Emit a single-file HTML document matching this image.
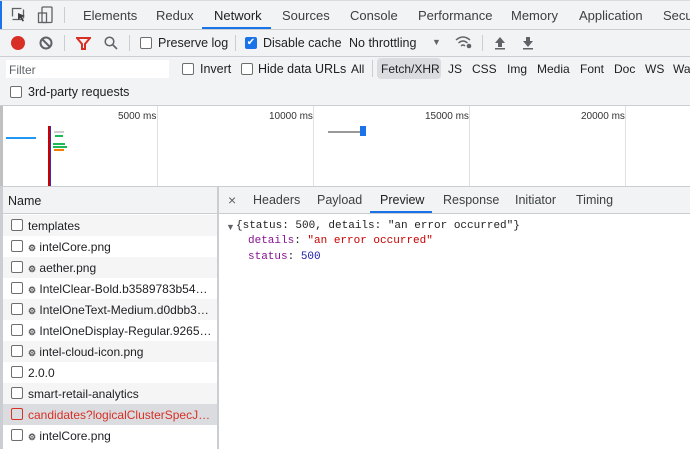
<!DOCTYPE html>
<html><head><style>
*{box-sizing:border-box;margin:0;padding:0}
body{width:690px;height:449px;overflow:hidden;background:#fff;font-family:"Liberation Sans",Arial,sans-serif;font-size:12px;color:#202124;position:relative}
.a{position:absolute;white-space:nowrap}
.cb{position:absolute;width:12px;height:12px;border:1px solid #6e6e6e;border-radius:2px;background:#fff}
.hl{position:absolute;height:1px;background:#cacdd1}
.vl{position:absolute;width:1px;background:#cacdd1}
.row{position:absolute;left:3px;width:214px;height:21px}
.row span{position:absolute;left:25px;top:4px;font-size:12px}
.row .cb{left:8px;top:4px}
.g{font-size:9px;color:#555}
.mono{font-family:"Liberation Mono",monospace;font-size:11px}
</style></head><body>
<div class="a" style="left:0;top:0;width:690px;height:105px;background:#f1f3f4"></div>
<div class="a" style="left:0;top:0;width:2px;height:30px;background:#1a73e8"></div>
<div class="hl" style="left:0;top:0;width:690px;background:#dadce0"></div>
<div class="hl" style="left:0;top:29px;width:690px"></div>
<div class="hl" style="left:0;top:56px;width:690px"></div>
<div class="hl" style="left:0;top:105px;width:690px"></div>
<svg class="a" style="left:11px;top:7px" width="16" height="16"><rect x="1.5" y="1.5" width="11" height="11" fill="none" stroke="#5f6368" stroke-width="1.3" stroke-dasharray="9 3"/><path d="M7 6 L14 9 L11 10 L13 14 L11.5 14.5 L9.5 11 L7 13Z" fill="#3c4043"/></svg>
<svg class="a" style="left:37px;top:6px" width="18" height="18"><rect x="1.5" y="7" width="8" height="9.5" fill="none" stroke="#5f6368" stroke-width="1.3"/><rect x="5" y="1" width="10" height="15.5" rx="1" fill="none" stroke="#5f6368" stroke-width="1.3"/></svg>
<div class="vl" style="left:64px;top:7px;height:16px"></div>
<div class="a" style="left:83px;top:8px;font-size:13px;color:#3c4043">Elements</div>
<div class="a" style="left:156px;top:8px;font-size:13px;color:#3c4043">Redux</div>
<div class="a" style="left:214px;top:8px;font-size:13px;color:#202124">Network</div>
<div class="a" style="left:202px;top:27px;width:69px;height:2px;background:#1a73e8"></div>
<div class="a" style="left:282px;top:8px;font-size:13px;color:#3c4043">Sources</div>
<div class="a" style="left:350px;top:8px;font-size:13px;color:#3c4043">Console</div>
<div class="a" style="left:418px;top:8px;font-size:13px;color:#3c4043">Performance</div>
<div class="a" style="left:511px;top:8px;font-size:13px;color:#3c4043">Memory</div>
<div class="a" style="left:579px;top:8px;font-size:13px;color:#3c4043">Application</div>
<div class="a" style="left:663px;top:8px;font-size:13px;color:#3c4043">Secu</div>
<div class="a" style="left:11px;top:36px;width:14px;height:14px;border-radius:50%;background:#d93025"></div>
<svg class="a" style="left:39px;top:36px" width="14" height="14"><circle cx="7" cy="7" r="5.5" fill="none" stroke="#5f6368" stroke-width="2"/><line x1="3" y1="3" x2="11" y2="11" stroke="#5f6368" stroke-width="2"/></svg>
<div class="vl" style="left:64px;top:35px;height:16px"></div>
<svg class="a" style="left:76px;top:37px" width="15" height="13"><path d="M1 1H14L9 7V12H6V7Z" fill="none" stroke="#d93025" stroke-width="2"/></svg>
<svg class="a" style="left:104px;top:36px" width="14" height="14"><circle cx="5.5" cy="5.5" r="4.3" fill="none" stroke="#5f6368" stroke-width="1.5"/><line x1="8.5" y1="8.5" x2="13" y2="13" stroke="#5f6368" stroke-width="1.6"/></svg>
<div class="vl" style="left:129px;top:35px;height:16px"></div>
<div class="cb" style="left:140px;top:37px"></div>
<div class="a" style="left:158px;top:36px;font-size:12.5px">Preserve log</div>
<div class="vl" style="left:235px;top:35px;height:16px"></div>
<div class="a" style="left:245px;top:37px;width:12px;height:12px;border-radius:2px;background:#1a73e8;color:#fff;font-size:10px;line-height:12px;text-align:center">✔</div>
<div class="a" style="left:263px;top:36px;font-size:12.5px">Disable cache</div>
<div class="a" style="left:349px;top:36px;font-size:12.5px">No throttling</div>
<div class="a" style="left:432px;top:37px;font-size:9px;color:#5f6368">▼</div>
<svg class="a" style="left:455px;top:35px" width="18" height="14"><path d="M1 5Q8 -1 15 5M3.5 8Q8 4 12.5 8M6 11Q8 9 10 11" fill="none" stroke="#5f6368" stroke-width="1.4"/><circle cx="14" cy="11" r="2.3" fill="#5f6368"/></svg>
<div class="vl" style="left:482px;top:35px;height:16px"></div>
<svg class="a" style="left:494px;top:36px" width="12" height="14"><path d="M6 1L11 7H8V11H4V7H1Z" fill="#5f6368"/><rect x="1" y="12" width="10" height="1.5" fill="#5f6368"/></svg>
<svg class="a" style="left:522px;top:36px" width="12" height="14"><path d="M6 11L11 5H8V1H4V5H1Z" fill="#5f6368"/><rect x="1" y="12" width="10" height="1.5" fill="#5f6368"/></svg>
<div class="a" style="left:6px;top:60px;width:163px;height:18px;background:#fff"></div>
<div class="a" style="left:9px;top:63px;color:#5f6368">Filter</div>
<div class="cb" style="left:182px;top:63px"></div>
<div class="a" style="left:200px;top:62px;font-size:12.5px">Invert</div>
<div class="cb" style="left:241px;top:63px"></div>
<div class="a" style="left:258px;top:62px;font-size:12.5px">Hide data URLs</div>
<div class="a" style="left:351px;top:62px">All</div>
<div class="vl" style="left:372px;top:60px;height:17px"></div>
<div class="a" style="left:377px;top:58px;width:64px;height:21px;border-radius:4px;background:#dadce0"></div>
<div class="a" style="left:381px;top:62px">Fetch/XHR</div>
<div class="a" style="left:448px;top:62px">JS</div>
<div class="a" style="left:472px;top:62px">CSS</div>
<div class="a" style="left:507px;top:62px">Img</div>
<div class="a" style="left:537px;top:62px">Media</div>
<div class="a" style="left:580px;top:62px">Font</div>
<div class="a" style="left:614px;top:62px">Doc</div>
<div class="a" style="left:645px;top:62px">WS</div>
<div class="a" style="left:673px;top:62px">Wa</div>
<div class="cb" style="left:10px;top:86px"></div>
<div class="a" style="left:28px;top:85px;font-size:12.5px">3rd-party requests</div>
<div class="a" style="left:0;top:106px;width:3px;height:80px;background:#c0c0c0"></div>
<div class="vl" style="left:157px;top:106px;height:80px;background:#e0e0e0"></div>
<div class="vl" style="left:313px;top:106px;height:80px;background:#e0e0e0"></div>
<div class="vl" style="left:469px;top:106px;height:80px;background:#e0e0e0"></div>
<div class="vl" style="left:625px;top:106px;height:80px;background:#e0e0e0"></div>
<div class="a g" style="left:118px;top:111px;font-size:10px;color:#333">5000 ms</div>
<div class="a g" style="left:269px;top:111px;font-size:10px;color:#333">10000 ms</div>
<div class="a g" style="left:425px;top:111px;font-size:10px;color:#333">15000 ms</div>
<div class="a g" style="left:581px;top:111px;font-size:10px;color:#333">20000 ms</div>
<div class="a" style="left:6px;top:137px;width:30px;height:2px;background:#2196f3"></div>
<div class="a" style="left:48px;top:126px;width:2px;height:60px;background:#c00"></div>
<div class="a" style="left:50px;top:126px;width:1px;height:60px;background:#2233cc"></div>
<div class="a" style="left:54px;top:131px;width:10px;height:2px;background:#ccc"></div>
<div class="a" style="left:55px;top:135px;width:8px;height:2px;background:#1db954"></div>
<div class="a" style="left:53px;top:143px;width:12px;height:2px;background:#1db954"></div>
<div class="a" style="left:53px;top:146px;width:14px;height:2px;background:#1db954"></div>
<div class="a" style="left:54px;top:149px;width:10px;height:2px;background:#f57c00"></div>
<div class="a" style="left:328px;top:131px;width:33px;height:2px;background:#999"></div>
<div class="a" style="left:360px;top:126px;width:6px;height:10px;background:#1a73e8"></div>
<div class="hl" style="left:0;top:186px;width:690px"></div>
<div class="a" style="left:0;top:187px;width:3px;height:262px;background:#cacdd1"></div>
<div class="a" style="left:3px;top:187px;width:214px;height:27px;background:#f1f3f4"></div>
<div class="a" style="left:8px;top:194px;font-size:12.5px">Name</div>
<div class="hl" style="left:0;top:213px;width:218px"></div>
<div class="a" style="left:217px;top:187px;width:2px;height:262px;background:#cacdd1"></div>
<div class="a" style="left:219px;top:187px;width:471px;height:26px;background:#f1f3f4"></div>
<div class="hl" style="left:219px;top:213px;width:471px"></div>
<div class="a" style="left:228px;top:192px;font-size:14px;color:#5f6368">×</div>
<div class="a" style="left:253px;top:193px;font-size:12.5px;color:#3c4043">Headers</div>
<div class="a" style="left:317px;top:193px;font-size:12.5px;color:#3c4043">Payload</div>
<div class="a" style="left:380px;top:193px;font-size:12.5px;color:#202124">Preview</div>
<div class="a" style="left:370px;top:211px;width:62px;height:2px;background:#1a73e8"></div>
<div class="a" style="left:443px;top:193px;font-size:12.5px;color:#3c4043">Response</div>
<div class="a" style="left:515px;top:193px;font-size:12.5px;color:#3c4043">Initiator</div>
<div class="a" style="left:576px;top:193px;font-size:12.5px;color:#3c4043">Timing</div>
<div class="row" style="top:215px;background:#f5f5f5"><div class="cb"></div><span>templates</span></div>
<div class="row" style="top:236px"><div class="cb"></div><span><b class="g">⚙</b> intelCore.png</span></div>
<div class="row" style="top:257px;background:#f5f5f5"><div class="cb"></div><span><b class="g">⚙</b> aether.png</span></div>
<div class="row" style="top:278px"><div class="cb"></div><span><b class="g">⚙</b> IntelClear-Bold.b3589783b54…</span></div>
<div class="row" style="top:299px;background:#f5f5f5"><div class="cb"></div><span><b class="g">⚙</b> IntelOneText-Medium.d0dbb3…</span></div>
<div class="row" style="top:320px"><div class="cb"></div><span><b class="g">⚙</b> IntelOneDisplay-Regular.9265…</span></div>
<div class="row" style="top:341px;background:#f5f5f5"><div class="cb"></div><span><b class="g">⚙</b> intel-cloud-icon.png</span></div>
<div class="row" style="top:362px"><div class="cb"></div><span>2.0.0</span></div>
<div class="row" style="top:383px;background:#f5f5f5"><div class="cb"></div><span>smart-retail-analytics</span></div>
<div class="row" style="top:404px;background:#dadce0"><div class="cb" style="border-color:#d93025;background:transparent"></div><span style="color:#d93025">candidates?logicalClusterSpecJ…</span></div>
<div class="row" style="top:425px"><div class="cb"></div><span><b class="g">⚙</b> intelCore.png</span></div>
<div class="a" style="left:226px;top:222px;font-size:9px;color:#5f6368">▼</div>
<div class="a mono" style="left:236px;top:220px">{status: 500, details: "an error occurred"}</div>
<div class="a mono" style="left:248px;top:235px"><span style="color:#881391">details</span>: <span style="color:#c80000">"an error occurred"</span></div>
<div class="a mono" style="left:248px;top:251px"><span style="color:#881391">status</span>: <span style="color:#1a1aa6">500</span></div>
</body></html>
